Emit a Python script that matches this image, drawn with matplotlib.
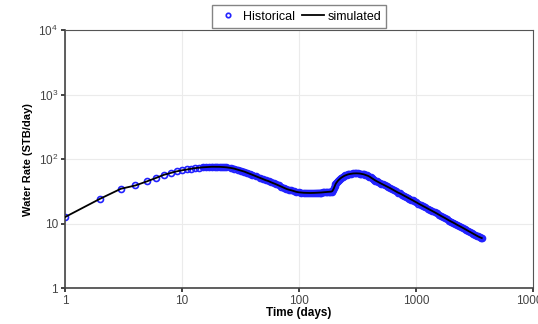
import matplotlib
matplotlib.use('Agg')
import matplotlib.pyplot as plt
from matplotlib.ticker import FixedLocator, NullLocator

plt.rcParams['font.family'] = ['Liberation Sans', 'DejaVu Sans']
plt.rcParams['mathtext.fontset'] = 'custom'
plt.rcParams['mathtext.rm'] = 'Liberation Sans'

# water rate history (days, STB/day)
days = [1, 2, 3, 4, 5, 6, 7, 8, 9, 10, 11, 12, 13, 14, 15, 16, 17, 18, 19,
        20, 21, 22, 23, 24, 26, 28, 30, 32, 34, 36, 38, 40, 43, 46, 49, 52, 55,
        58, 61, 64, 67, 70, 74, 78, 82, 86, 90, 95, 100,
        105, 110, 115, 120, 125, 130, 135, 140, 145, 150, 155, 160, 165, 170,
        175, 180, 185, 190, 193, 196, 199, 202, 205, 208, 212, 216, 220, 225,
        230, 236, 242, 248, 255, 262, 270, 280, 290, 300, 310, 320, 330, 340,
        350, 360, 370, 380, 390, 400, 410, 420, 430, 440, 450, 460, 475, 490,
        505, 520, 540, 560, 580, 600, 625, 650, 675, 700, 730, 760, 790, 820,
        850, 880, 910, 940, 970, 1000, 1050, 1100, 1150, 1200, 1260, 1320,
        1380, 1440, 1500, 1570, 1640, 1710, 1780, 1850, 1930, 2010, 2090, 2170,
        2250, 2340, 2430, 2520, 2610, 2700, 2800, 2900, 3000, 3100, 3200, 3300,
        3400, 3500, 3600, 3650]
rate = [12.6, 24.3, 34.6, 39, 45, 51, 57, 61, 64.5, 67, 69, 71, 72.5, 73.5,
        74.5, 75, 75.5, 76, 76,
        76, 75.8, 75.5, 75, 74.5, 73, 71, 68.5, 66.5, 64, 61.5, 59, 57, 54,
        51.5, 49, 47, 45.5, 43.5, 42, 40.5, 39, 37.5, 36, 34.5, 33.5, 32.8, 32,
        31, 30.5,
        30.2, 30, 29.9, 29.8, 29.8, 29.8, 29.9, 30, 30.1, 30.2, 30.3, 30.5,
        30.6, 30.8, 30.9, 31, 31.2, 31.4, 32, 33.5, 35.5, 38, 40.5, 42.5, 44.5,
        46.5, 48, 49.8, 51.5, 53, 54.5, 55.7, 56.8, 57.8, 58.6, 59.3, 59.8, 60,
        60.1, 60, 59.7, 59.2, 58.5, 57.8, 56.8, 55.8, 54.8, 53.5, 52, 50.5, 49,
        47.7, 46.5, 45.5, 44, 42.8, 41.6, 40.5, 39.2, 38, 36.7, 35.5, 34, 32.7,
        31.5, 30.3, 29.3, 28.1, 27.1, 26.1, 25.2, 24.4, 23.6, 22.9, 22.1, 21.5,
        20.4, 19.5, 18.7, 17.9, 17.1, 16.3, 15.6, 15, 14.4, 13.7, 13.1, 12.6,
        12.1, 11.6, 11.1, 10.7, 10.3, 9.9, 9.55, 9.2, 8.85, 8.55, 8.25, 7.95,
        7.65, 7.4, 7.15, 6.9, 6.7, 6.5, 6.3, 6.15, 6.0, 5.95]

x_ticks = [1, 10, 100, 1000, 10000]
x_labels = ['1', '10', '100', '1000', '10000']
y_ticks = [1, 10, 100, 1000, 10000]
y_labels = ['1', '10', r'$\mathregular{10^2}$', r'$\mathregular{10^3}$',
            r'$\mathregular{10^4}$']

blue = '#2222ff'

fig = plt.figure(figsize=(5.38, 3.24), dpi=100)
ax = fig.add_axes([0.1208, 0.111, 0.8699, 0.796])

# daily history points overlap into a solid band after ~15 days
dense = days.index(15)
ax.plot(days[dense:], rate[dense:], color=blue, linewidth=4.2,
        solid_capstyle='round', zorder=2)
ax.plot(days, rate, linestyle='none', marker='o', markersize=4.3,
        markerfacecolor='none', markeredgecolor=blue,
        markeredgewidth=1.2, label='Historical', zorder=2)
ax.plot(days, rate, color='black', linewidth=1.3, label='simulated', zorder=3)

ax.set_xscale('log')
ax.set_yscale('log')
ax.set_xlim(1, 10000)
ax.set_ylim(1, 10000)
ax.xaxis.set_major_locator(FixedLocator(x_ticks))
ax.yaxis.set_major_locator(FixedLocator(y_ticks))
ax.xaxis.set_minor_locator(NullLocator())
ax.yaxis.set_minor_locator(NullLocator())
ax.set_xticklabels(x_labels)
ax.set_yticklabels(y_labels)

ax.grid(True, color='#ebebeb', linewidth=0.8)
ax.set_axisbelow(True)
for side in ['top', 'right']:
    ax.spines[side].set_color('#555555')
    ax.spines[side].set_linewidth(0.8)
for side in ['left', 'bottom']:
    ax.spines[side].set_color('#444444')
    ax.spines[side].set_linewidth(1.2)
ax.tick_params(axis='both', direction='out', length=3, width=1.2,
               color='#222222', labelsize=8.5, labelcolor='#444444', pad=2)

ax.set_xlabel('Time (days)', fontsize=8.5, fontweight='bold', labelpad=0)
ax.set_ylabel('Water Rate (STB/day)', fontsize=8, fontweight='bold', labelpad=4)

ax.legend(loc='lower center', bbox_to_anchor=(0.5, 1.0), ncol=2,
          fontsize=9, frameon=True, fancybox=False, edgecolor='#666666',
          borderaxespad=0.2, handlelength=1.8, columnspacing=0.55,
          handletextpad=0.3, borderpad=0.35, handleheight=1.3,
          markerscale=0.75)

fig.savefig('out.png', dpi=100)
